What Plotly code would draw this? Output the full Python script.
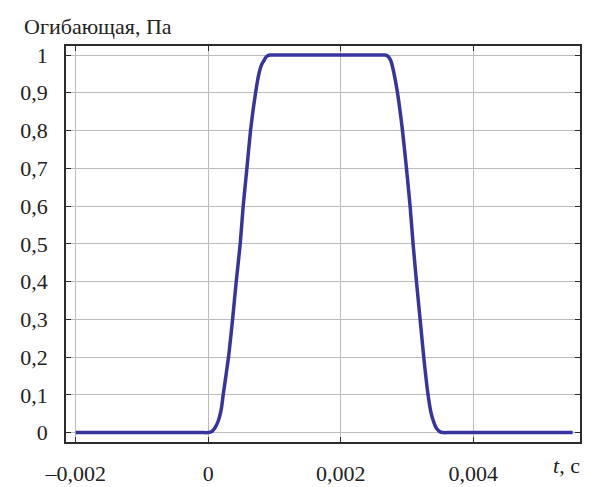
import plotly.graph_objects as go

# Data
t_values = [-0.002, -0.0001, 0.0, 0.00005, 0.0001, 0.00015, 0.0002, 0.000226, 0.000307, 0.000368,
            0.000423, 0.000483, 0.000528, 0.000584, 0.000639, 0.000715, 0.000765, 0.0008,
            0.00084, 0.00088, 0.00093, 0.00102, 0.00258, 0.002665, 0.00271, 0.002756, 0.0028,
            0.002857, 0.002932, 0.002992, 0.003047, 0.003092, 0.003143, 0.003198, 0.003253,
            0.003318, 0.00336, 0.003404, 0.00345, 0.0035, 0.003545, 0.00364, 0.0055]
envelope = [0.0, 0.0, 0.0, 0.002, 0.012, 0.03, 0.065, 0.1, 0.2, 0.3,
            0.4, 0.5, 0.6, 0.7, 0.8, 0.9, 0.95, 0.972,
            0.985, 0.996, 1.0, 1.0, 1.0, 1.0, 0.997, 0.985, 0.955,
            0.9, 0.8, 0.7, 0.6, 0.5, 0.4, 0.3, 0.2,
            0.1, 0.055, 0.028, 0.01, 0.002, 0.0, 0.0, 0.0]

x_tickvals = [-0.002, 0.0, 0.002, 0.004]
x_ticktext = ["\u20130,002", "0", "0,002", "0,004"]
y_tickvals = [0, 0.1, 0.2, 0.3, 0.4, 0.5, 0.6, 0.7, 0.8, 0.9, 1.0]
y_ticktext = ["0", "0,1", "0,2", "0,3", "0,4", "0,5", "0,6", "0,7", "0,8", "0,9", "1"]

y_title = "Огибающая, Па"
x_title = "<i>t</i>, c"

FONT = "'Liberation Serif', 'Times New Roman', serif"

fig = go.Figure()
fig.add_trace(go.Scatter(
    x=t_values, y=envelope, mode="lines",
    line=dict(color="#38349f", width=3.5, shape="spline", smoothing=0.5),
    hoverinfo="skip", showlegend=False,
))

axis_common = dict(
    showline=True, linecolor="#2b2b2b", linewidth=1.5, mirror="ticks",
    ticks="inside", ticklen=5, tickwidth=1.2, tickcolor="#2b2b2b",
    showgrid=True, gridcolor="#bcbcbc", gridwidth=1,
    zeroline=False, automargin=False,
    tickfont=dict(family=FONT, size=22, color="#222222"),
)

fig.update_xaxes(range=[-0.002146, 0.005611], tickvals=x_tickvals, ticktext=x_ticktext,
                 ticklabelstandoff=11, **axis_common)
fig.update_yaxes(range=[-0.0249, 1.0239], tickvals=y_tickvals, ticktext=y_ticktext,
                 ticklabelstandoff=12, **axis_common)

fig.add_annotation(text=y_title, xref="paper", yref="paper", x=-0.0856, y=1.048,
                   xanchor="left", yanchor="middle", showarrow=False,
                   font=dict(family=FONT, size=22, color="#222222"))
fig.add_annotation(text=x_title, xref="paper", yref="paper", x=0.974, y=-0.059,
                   xanchor="center", yanchor="middle", showarrow=False,
                   font=dict(family=FONT, size=22, color="#222222"))

fig.update_layout(
    width=589, height=479,
    margin=dict(l=58, r=17, t=38, b=45, autoexpand=False),
    paper_bgcolor="white", plot_bgcolor="white",
)

fig.write_html("out.html")
